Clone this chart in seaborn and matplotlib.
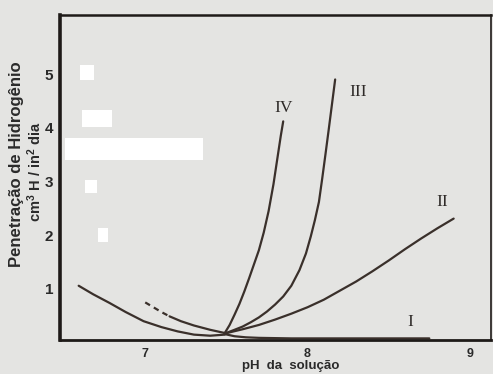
import pandas as pd
import matplotlib.pyplot as plt
import seaborn as sns
from matplotlib.patches import Rectangle

# Curves (pH, permeation cm3 H / in2 / day)
left_solid_ph = [6.59, 6.68, 6.78, 6.88, 6.99, 7.1, 7.2, 7.3, 7.4, 7.49]
left_solid_val = [1.06, 0.90, 0.74, 0.57, 0.40, 0.29, 0.21, 0.15, 0.13, 0.15]

left_dash_ph = [7.0, 7.05, 7.1, 7.15]
left_dash_val = [0.75, 0.66, 0.57, 0.49]
left_cont_ph = [7.15, 7.22, 7.3, 7.4, 7.49]
left_cont_val = [0.49, 0.40, 0.32, 0.24, 0.18]

curve_i_ph = [7.49, 7.55, 7.62, 7.7, 7.9, 8.2, 8.5, 8.75]
curve_i_val = [0.16, 0.12, 0.10, 0.09, 0.08, 0.08, 0.08, 0.08]

curve_ii_ph = [7.49, 7.6, 7.7, 7.8, 7.9, 8.0, 8.1, 8.2, 8.3, 8.4, 8.5, 8.6, 8.7, 8.8, 8.9]
curve_ii_val = [0.17, 0.25, 0.33, 0.43, 0.54, 0.66, 0.80, 0.97, 1.14, 1.33, 1.53,
                1.74, 1.94, 2.13, 2.31]

curve_iii_ph = [7.49, 7.55, 7.6, 7.65, 7.7, 7.75, 7.8, 7.85, 7.9, 7.95, 7.99, 8.02,
                8.045, 8.07, 8.09, 8.11, 8.13, 8.15, 8.17]
curve_iii_val = [0.17, 0.24, 0.30, 0.38, 0.47, 0.58, 0.71, 0.86, 1.06, 1.35, 1.66, 1.98,
                 2.28, 2.62, 3.05, 3.50, 3.96, 4.43, 4.90]

curve_iv_ph = [7.49, 7.52, 7.55, 7.58, 7.61, 7.64, 7.67, 7.70, 7.73, 7.76, 7.79, 7.815,
               7.835, 7.85]
curve_iv_val = [0.18, 0.33, 0.52, 0.72, 0.95, 1.20, 1.46, 1.72, 2.05, 2.45, 2.95, 3.45,
                3.85, 4.12]

curve_labels = ["I", "II", "III", "IV"]
label_ph = [8.63, 8.83, 8.31, 7.85]
label_val = [0.38, 2.62, 4.66, 4.36]

x_ticks = [7, 7.5, 8, 8.5, 9]
x_tick_labels = ["7", "", "8", "", "9"]
y_ticks = [1, 2, 3, 4, 5]

# whited-out patches in the scan (figure pixels: x0, y0, x1, y1)
blank_boxes = [(80, 65, 94, 80), (82, 110, 112, 127), (65, 138, 203, 160),
               (85, 180, 97, 193), (98, 228, 108, 242)]

sns.set_style("white")
plt.rcParams["font.family"] = ["Liberation Sans", "DejaVu Sans"]
plt.rcParams["mathtext.fontset"] = "custom"
plt.rcParams["mathtext.bf"] = "Liberation Sans:bold"
plt.rcParams["mathtext.rm"] = "Liberation Sans:bold"
plt.rcParams["mathtext.default"] = "bf"

paper = "#e4e4e2"
ink = "#3a302b"
W, H = 493, 374

fig = plt.figure(figsize=(W / 100, H / 100), dpi=100, facecolor=paper)
ax = fig.add_axes([60 / W, 1 - 340 / H, (491 - 60) / W, (340 - 15) / H])
ax.set_facecolor(paper)

for x0, y0, x1, y1 in blank_boxes:
    fig.add_artist(Rectangle((x0 / W, 1 - y1 / H), (x1 - x0) / W, (y1 - y0) / H,
                             transform=fig.transFigure, color="white", lw=0, zorder=5))

curves = [
    (left_solid_ph, left_solid_val, "-"),
    (left_dash_ph, left_dash_val, (0, (2.5, 2))),
    (left_cont_ph, left_cont_val, "-"),
    (curve_i_ph, curve_i_val, "-"),
    (curve_ii_ph, curve_ii_val, "-"),
    (curve_iii_ph, curve_iii_val, "-"),
    (curve_iv_ph, curve_iv_val, "-"),
]
for xs, ys, ls in curves:
    df = pd.DataFrame({"ph": xs, "val": ys})
    sns.lineplot(data=df, x="ph", y="val", ax=ax, color=ink, lw=1.6,
                 linestyle=ls, sort=False, estimator=None)

for lab, xx, yy in zip(curve_labels, label_ph, label_val):
    ax.text(xx, yy, lab, family=["Liberation Serif", "DejaVu Serif"], fontsize=12.5,
            color="#2e2a28", ha="center", va="center")

ax.set_xlim(6.475, 9.13)
ax.set_ylim(0.05, 6.1)
ax.set_xticks(x_ticks)
ax.set_xticklabels(x_tick_labels, fontsize=9, fontweight="bold", color="#2a2a2a")
ax.set_yticks(y_ticks)
ax.set_yticklabels([str(v) for v in y_ticks], fontsize=11, fontweight="bold", color="#2a2a2a")
ax.tick_params(axis="x", direction="in", length=10, width=1.5, color=ink, pad=6)
ax.tick_params(axis="y", direction="in", length=11, width=2, color=ink, pad=5)
ax.set_xlabel("")
ax.set_ylabel("")

for side, lw in [("left", 2.6), ("bottom", 2.0), ("top", 1.8), ("right", 1.2)]:
    ax.spines[side].set_linewidth(lw)
    ax.spines[side].set_color("#1e1a18")
    ax.spines[side].set_visible(True)

fig.text(17 / W, 1 - 164 / H, "Penetração de Hidrogênio", rotation=90,
         ha="center", va="center", fontsize=12, fontweight="bold", color="#2a2a2a")
fig.text(35 / W, 1 - 172 / H, r"cm$^{3}$ H / in$^{2}$ dia", rotation=90,
         ha="center", va="center", fontsize=10.5, fontweight="bold", color="#2a2a2a")
fig.text(291 / W, 1 - 366 / H, "pH  da  solução", ha="center", va="center",
         fontsize=9.5, fontweight="bold", color="#2a2a2a")

fig.savefig("out.png", dpi=100, facecolor=paper)
